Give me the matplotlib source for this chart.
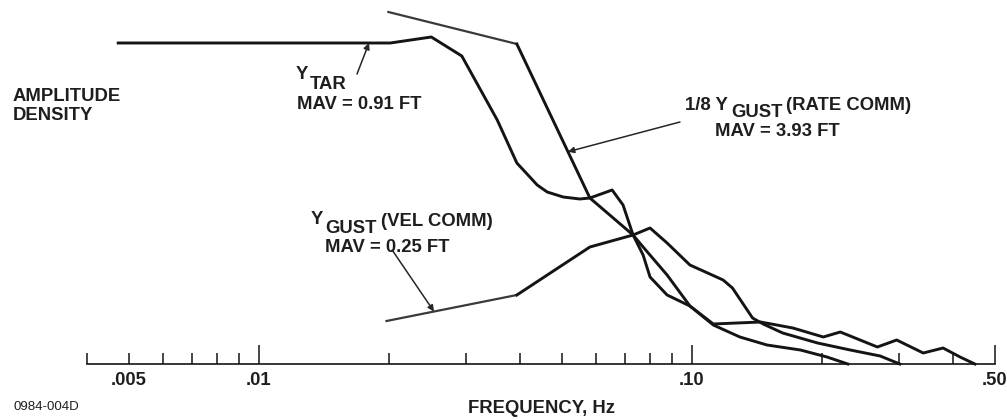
import numpy as np
import matplotlib
matplotlib.use("Agg")
import matplotlib.pyplot as plt
from matplotlib.ticker import FixedLocator, FixedFormatter

# Amplitude density spectra (frequency in Hz, amplitude in relative units)
tar_freq = [0.00473, 0.0181, 0.0201, 0.0250, 0.0294, 0.0355, 0.0394, 0.0416,
            0.0439, 0.0463, 0.0504, 0.0551, 0.0581, 0.0654, 0.0693, 0.0731,
            0.0771, 0.0800, 0.0876, 0.0989, 0.112, 0.129, 0.149, 0.178,
            0.205, 0.229]
tar_amp = [321, 321, 321, 327, 308, 244, 201, 190, 179, 172, 167, 165, 166,
           174, 159, 129, 109, 87, 69, 58, 39, 27, 19, 14, 7, 0]

rate_freq = [0.0199, 0.0394, 0.0581, 0.0731, 0.0771, 0.0876, 0.0989, 0.112,
             0.144, 0.171, 0.201, 0.220, 0.268, 0.297, 0.342, 0.380, 0.416,
             0.450]
rate_amp = [352, 320, 166, 129, 117, 89, 58, 40, 42, 36, 27, 32, 17, 24, 11,
            16, 7, 0]

vel_freq = [0.0197, 0.0394, 0.0581, 0.0731, 0.0800, 0.0876, 0.0989, 0.118,
            0.124, 0.138, 0.146, 0.162, 0.195, 0.232, 0.272, 0.302]
vel_amp = [43, 69, 117, 129, 136, 121, 99, 84, 76, 46, 40, 31, 21, 14, 8, 0]

major_ticks = [0.01, 0.1, 0.5]
major_labels = [".01", ".10", ".50"]
minor_ticks = [0.004, 0.005, 0.006, 0.007, 0.008, 0.009,
               0.02, 0.03, 0.04, 0.05, 0.06, 0.07, 0.08, 0.09,
               0.2, 0.3, 0.4]
minor_labels = ["" if t != 0.005 else ".005" for t in minor_ticks]

FONT = "Liberation Sans"
INK = "#141414"
TXT = 13.3

W, H = 1007, 420
fig = plt.figure(figsize=(W / 100, H / 100), dpi=100)
fig.patch.set_facecolor("white")
ax = fig.add_axes([0, 0, 1, 1])
ax.patch.set_visible(False)
ax.set_xscale("log")
ax.set_xlim(10 ** (-2 - 259 / 433), 10 ** (-2 + 748 / 433))
ax.set_ylim(-56, 364)

for side in ("left", "right", "top"):
    ax.spines[side].set_visible(False)
ax.spines["bottom"].set_position(("data", 0))
ax.spines["bottom"].set_bounds(0.004, 0.5)
ax.spines["bottom"].set_linewidth(1.2)
ax.spines["bottom"].set_color(INK)
ax.yaxis.set_visible(False)

ax.xaxis.set_major_locator(FixedLocator(major_ticks))
ax.xaxis.set_major_formatter(FixedFormatter(major_labels))
ax.xaxis.set_minor_locator(FixedLocator(minor_ticks))
ax.xaxis.set_minor_formatter(FixedFormatter(minor_labels))
tick_font = matplotlib.font_manager.FontProperties(family=FONT, weight="bold",
                                                   size=13.3)
ax.tick_params(axis="x", which="major", direction="in", length=13.5,
               width=1.1, color=INK, pad=6)
ax.tick_params(axis="x", which="minor", direction="in", length=8,
               width=1.1, color=INK, pad=6)
for lab in ax.get_xticklabels(which="both"):
    lab.set_fontproperties(tick_font)
    lab.set_color("#1e1e1e")

# Spectra: the straight asymptote segments are drawn a little lighter
ax.plot(tar_freq, tar_amp, color=INK, lw=2.1, solid_joinstyle="round")
ax.plot(rate_freq[:2], rate_amp[:2], color="#3a3a3a", lw=1.6)
ax.plot(rate_freq[1:], rate_amp[1:], color=INK, lw=2.1, solid_joinstyle="round")
ax.plot(vel_freq[:2], vel_amp[:2], color="#3a3a3a", lw=1.6)
ax.plot(vel_freq[1:], vel_amp[1:], color=INK, lw=2.1, solid_joinstyle="round")


def on_curve(freq, amp, f):
    return f, float(np.interp(np.log10(f), np.log10(freq), amp))


arrow = dict(arrowstyle="-|>", color="#262626", lw=1.1,
             mutation_scale=9, shrinkA=0, shrinkB=0)
ax.annotate("", xy=on_curve(tar_freq, tar_amp, 0.01795), xytext=(0.01684, 290),
            arrowprops=arrow)
ax.annotate("", xy=on_curve(rate_freq, rate_amp, 0.0517), xytext=(0.0938, 242),
            arrowprops=arrow)
ax.annotate("", xy=on_curve(vel_freq, vel_amp, 0.02536), xytext=(0.0203, 114),
            arrowprops=arrow)


def label(x, y, s, size=TXT, weight="bold"):
    fig.text(x / W, 1 - y / H, s, family=FONT, weight=weight, size=size,
             color="#1e1e1e", ha="left", va="baseline")


label(13, 101, "AMPLITUDE")
label(13, 120, "DENSITY")

label(296, 79, "Y")
label(310, 89, "TAR")
label(297, 109, "MAV = 0.91 FT")

label(685, 110, "1/8 Y")
label(731, 117, "GUST")
label(786, 110, "(RATE COMM)")
label(715, 136, "MAV = 3.93 FT")

label(311, 224, "Y")
label(325, 233, "GUST")
label(381, 226, "(VEL COMM)")
label(325, 252, "MAV = 0.25 FT")

label(468, 413, "FREQUENCY, Hz")
label(13, 410, "0984-004D", size=9.5, weight="normal")

fig.savefig("out.png", dpi=100, facecolor="white")
